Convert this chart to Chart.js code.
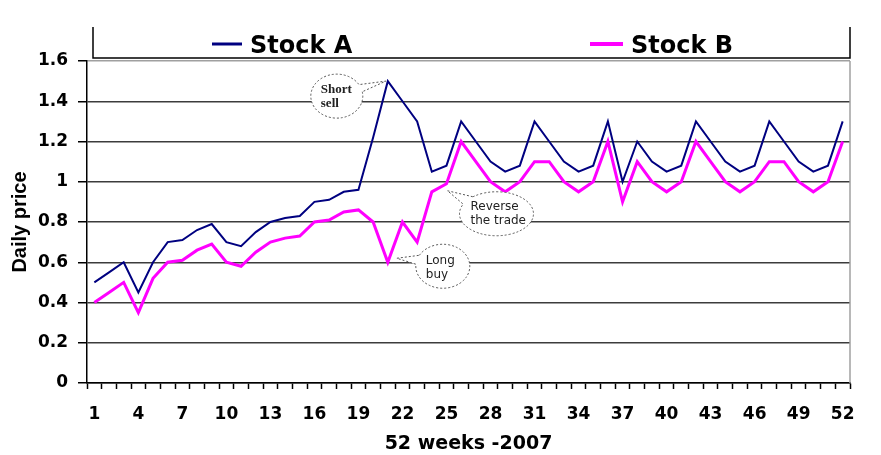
<!DOCTYPE html>
<html>
<head>
<meta charset="utf-8">
<script src="https://cdn.jsdelivr.net/npm/chart.js@4/dist/chart.umd.min.js"></script>
<style>
  html, body { margin: 0; padding: 0; background: #fff; }
  #cadre { width: 881px; height: 455px; }
</style>
</head>
<body>
<div id="cadre"><canvas id="graphStocks"></canvas></div>
<script>
// donnees

const weeks = [1, 2, 3, 4, 5, 6, 7, 8, 9, 10, 11, 12, 13, 14, 15, 16, 17, 18, 19, 20, 21, 22, 23, 24, 25, 26,
  27, 28, 29, 30, 31, 32, 33, 34, 35, 36, 37, 38, 39, 40, 41, 42, 43, 44, 45, 46, 47, 48, 49, 50, 51, 52];

const stockA = [0.50, 0.55, 0.60, 0.45, 0.60, 0.70, 0.71, 0.76, 0.79, 0.70, 0.68, 0.75, 0.80, 0.82, 0.83, 0.90,
  0.91, 0.95, 0.96, 1.22, 1.50, 1.40, 1.30, 1.05, 1.08, 1.30, 1.20, 1.10, 1.05, 1.08, 1.30, 1.20, 1.10, 1.05,
  1.08, 1.30, 1.00, 1.20, 1.10, 1.05, 1.08, 1.30, 1.20, 1.10, 1.05, 1.08, 1.30, 1.20, 1.10, 1.05, 1.08, 1.30];

const stockB = [0.40, 0.45, 0.50, 0.35, 0.52, 0.60, 0.61, 0.66, 0.69, 0.60, 0.58, 0.65, 0.70, 0.72, 0.73, 0.80,
  0.81, 0.85, 0.86, 0.80, 0.60, 0.80, 0.70, 0.95, 0.99, 1.20, 1.10, 1.00, 0.95, 1.00, 1.10, 1.10, 1.00, 0.95,
  1.00, 1.20, 0.90, 1.10, 1.00, 0.95, 1.00, 1.20, 1.10, 1.00, 0.95, 1.00, 1.10, 1.10, 1.00, 0.95, 1.00, 1.20];

const xTickLabels = [1, 4, 7, 10, 13, 16, 19, 22, 25, 28, 31, 34, 37, 40, 43, 46, 49, 52];
const yTickLabels = ['0', '0.2', '0.4', '0.6', '0.8', '1', '1.2', '1.4', '1.6'];


// bulles de commentaires (accrochees a un point de la serie)

const bulles = [
  { serie: 0, week: 21, texte: ['Short', 'sell'], dx: -51, dy: 15, rx: 26, ry: 22, a1: -0.55, a2: -0.2,
    pointe: [-2, 0], tx: -16, ty: -3, font: 'bold 13px "Liberation Serif"' },
  { serie: 1, week: 25, texte: ['Reverse', 'the trade'], dx: 50, dy: 30, rx: 37, ry: 22, a1: -2.69, a2: -2.26,
    pointe: [1, 7], tx: -26, ty: -4, font: '12px "DejaVu Sans"' },
  { serie: 1, week: 21, texte: ['Long', 'buy'], dx: 55, dy: 4, rx: 27, ry: 22, a1: -3.05, a2: -2.62,
    pointe: [9, -4], tx: -17, ty: -2, font: '12px "DejaVu Sans"' },
];

const decor = {
  id: 'decor',
  afterDatasetsDraw(chart) {
    const { ctx, chartArea } = chart;
    const xs = chart.scales.x, ys = chart.scales.y;

    // bord droit du cadre
    ctx.save();
    ctx.strokeStyle = '#a0a0a0';
    ctx.lineWidth = 1.5;
    ctx.beginPath();
    ctx.moveTo(chartArea.right, chartArea.top);
    ctx.lineTo(chartArea.right, chartArea.bottom);
    ctx.stroke();

    bulles.forEach(b => {
      const i = weeks.indexOf(b.week);
      const x0 = xs.getPixelForValue(i);
      const y0 = ys.getPixelForValue(chart.data.datasets[b.serie].data[i]);
      const cx = x0 + b.dx, cy = y0 + b.dy;
      ctx.beginPath();
      ctx.ellipse(cx, cy, b.rx, b.ry, 0, b.a2, b.a1 + 2 * Math.PI);
      ctx.lineTo(x0 + b.pointe[0], y0 + b.pointe[1]);
      ctx.closePath();
      ctx.fillStyle = '#fff';
      ctx.fill();
      ctx.setLineDash([2, 2]);
      ctx.strokeStyle = '#555';
      ctx.lineWidth = 1;
      ctx.stroke();
      ctx.setLineDash([]);
      ctx.fillStyle = '#222';
      ctx.font = b.font;
      ctx.textAlign = 'left';
      ctx.textBaseline = 'alphabetic';
      b.texte.forEach((t, k) => ctx.fillText(t, cx + b.tx, cy + b.ty + k * 14));
    });
    ctx.restore();
  },
  afterDraw(chart) {
    const { ctx, chartArea } = chart;
    ctx.save();
    // boite de legende (ouverte en haut)
    ctx.strokeStyle = '#000';
    ctx.lineWidth = 1.5;
    ctx.beginPath();
    ctx.moveTo(chartArea.left + 6, 27);
    ctx.lineTo(chartArea.left + 6, 58);
    ctx.lineTo(chartArea.right, 58);
    ctx.lineTo(chartArea.right, 27);
    ctx.stroke();

    const places = [{ x: 212, len: 30, ep: 3 }, { x: 590, len: 33, ep: 4 }];
    ctx.font = 'bold 24px "DejaVu Sans"';
    ctx.textBaseline = 'alphabetic';
    ctx.textAlign = 'left';
    chart.data.datasets.forEach((ds, k) => {
      const p = places[k];
      ctx.strokeStyle = ds.borderColor;
      ctx.lineWidth = p.ep;
      ctx.beginPath();
      ctx.moveTo(p.x, 44);
      ctx.lineTo(p.x + p.len, 44);
      ctx.stroke();
      ctx.fillStyle = '#000';
      ctx.fillText(ds.label, p.x + p.len + 8, 53);
    });
    ctx.restore();
  }
};


// graphique

const ctx = document.getElementById('graphStocks');

new Chart(ctx, {
  type: 'line',
  data: {
    labels: weeks,
    datasets: [
      {
        label: 'Stock A',
        data: stockA,
        borderColor: '#000080',
        borderWidth: 2,
        pointRadius: 0,
        tension: 0,
      },
      {
        label: 'Stock B',
        data: stockB,
        borderColor: '#ff00ff',
        borderWidth: 3,
        pointRadius: 0,
        tension: 0,
      }
    ]
  },
  options: {
    responsive: true,
    maintainAspectRatio: false,
    animation: false,
    layout: { padding: { top: 61, right: 31, left: 0, bottom: 0 } },
    plugins: {
      legend: { display: false },
      tooltip: { enabled: false }
    },
    scales: {
      x: {
        offset: true,
        afterFit: (s) => { s.height = 72; },
        grid: { offset: true, drawOnChartArea: false, tickLength: 6, tickColor: '#000', tickWidth: 1.5 },
        border: { color: '#000', width: 1.5 },
        ticks: {
          autoSkip: false,
          maxRotation: 0,
          padding: 15,
          color: '#000',
          font: { family: 'DejaVu Sans', weight: 'bold', size: 17 },
          callback: (v, i) => xTickLabels.includes(weeks[i]) ? String(weeks[i]) : ''
        },
        title: {
          display: true,
          text: '52 weeks -2007',
          color: '#000',
          font: { family: 'DejaVu Sans', weight: 'bold', size: 19 },
          padding: { top: 0, bottom: 0 }
        }
      },
      y: {
        min: 0,
        max: 1.6,
        afterFit: (s) => { s.width = 87; },
        grid: {
          color: (c) => c.index === yTickLabels.length - 1 ? '#a0a0a0' : '#3c3c3c',
          lineWidth: 1.5,
          tickLength: 9,
          tickColor: '#000'
        },
        border: { color: '#000', width: 1.5 },
        ticks: {
          stepSize: 0.2,
          padding: 10,
          color: '#000',
          font: { family: 'DejaVu Sans', weight: 'bold', size: 17 },
          callback: (v, i) => yTickLabels[i]
        },
        title: {
          display: true,
          text: 'Daily price',
          color: '#000',
          font: { family: 'Liberation Sans', weight: 'bold', size: 20 },
          padding: { top: 8, bottom: 0 }
        }
      }
    }
  },
  plugins: [decor]
});
</script>
</body>
</html>
